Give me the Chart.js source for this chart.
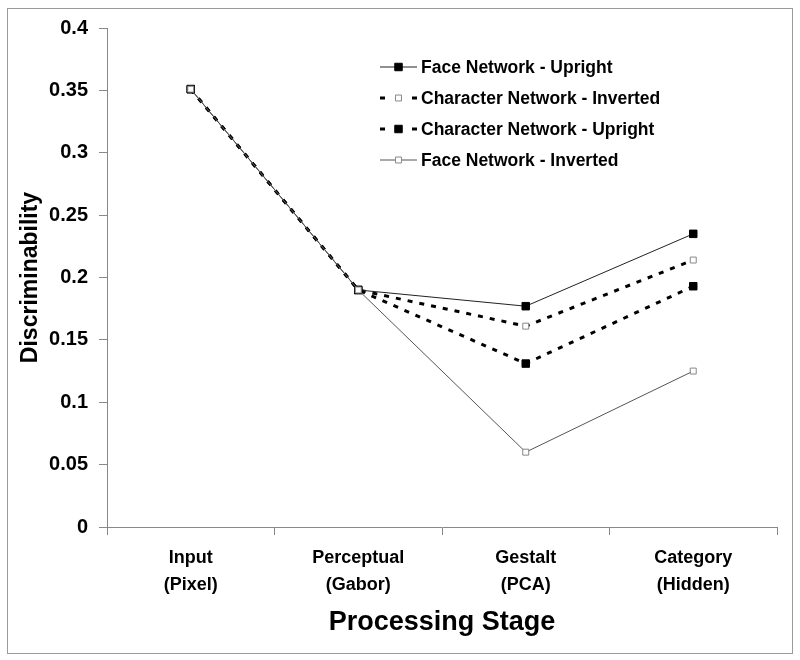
<!DOCTYPE html>
<html>
<head>
<meta charset="utf-8">
<script src="https://cdn.jsdelivr.net/npm/chart.js@4.4.1/dist/chart.umd.min.js"></script>
<style>
  html, body { margin: 0; padding: 0; background: #fff; }
  canvas { display: block; }
</style>
</head>
<body>
<canvas id="c" width="800" height="660"></canvas>
<script>
const categories = [["Input", "(Pixel)"], ["Perceptual", "(Gabor)"], ["Gestalt", "(PCA)"], ["Category", "(Hidden)"]];
const faceUpright = [0.351, 0.190, 0.177, 0.235];
const charInverted = [0.351, 0.190, 0.161, 0.214];
const charUpright = [0.351, 0.190, 0.131, 0.193];
const faceInverted = [0.351, 0.190, 0.060, 0.125];
const yTickValues = [0, 0.05, 0.1, 0.15, 0.2, 0.25, 0.3, 0.35, 0.4];
const yTickLabels = ["0", "0.05", "0.1", "0.15", "0.2", "0.25", "0.3", "0.35", "0.4"];
const seriesNames = ["Face Network - Upright", "Character Network - Inverted", "Character Network - Upright", "Face Network - Inverted"];
const xTitle = "Processing Stage";
const yTitle = "Discriminability";

const FONT = "'Liberation Sans', Arial, sans-serif";

const frame = {
  id: 'frame',
  beforeDraw(chart) {
    const ctx = chart.ctx;
    ctx.save();
    ctx.fillStyle = '#fff';
    ctx.fillRect(0, 0, chart.width, chart.height);
    ctx.strokeStyle = '#9a9a9a';
    ctx.lineWidth = 1;
    ctx.strokeRect(7.5, 8.5, 785, 645);
    ctx.restore();
  }
};

const customLegend = {
  id: 'customLegend',
  afterDatasetsDraw(chart) {
    const ctx = chart.ctx;
    const area = chart.chartArea;
    const x0 = area.left + 273;
    const y0 = area.top + 39;
    const rowH = 31;
    const sampleW = 37;
    ctx.save();
    chart.data.datasets.forEach((ds, i) => {
      const y = y0 + i * rowH;
      const dashed = ds.borderDash && ds.borderDash.length;
      ctx.beginPath();
      ctx.strokeStyle = ds.borderColor;
      ctx.lineWidth = ds.borderWidth;
      ctx.setLineDash(dashed ? [5, sampleW - 10] : []);
      ctx.lineDashOffset = 0;
      ctx.moveTo(x0, y);
      ctx.lineTo(x0 + sampleW, y);
      ctx.stroke();
      ctx.setLineDash([]);
      ctx.fillStyle = ds.pointBackgroundColor;
      ctx.strokeStyle = ds.pointBorderColor;
      ctx.lineWidth = ds.pointBorderWidth;
      Chart.helpers.drawPoint(ctx, { pointStyle: 'rect', radius: ds.pointRadius, rotation: 0, borderWidth: ds.pointBorderWidth }, x0 + sampleW / 2, y);
      ctx.fillStyle = '#000';
      ctx.font = "bold 17.5px " + FONT;
      ctx.textBaseline = 'middle';
      ctx.textAlign = 'left';
      ctx.fillText(ds.label, x0 + sampleW + 4, y + 1);
    });
    ctx.restore();
  }
};

new Chart(document.getElementById('c'), {
  type: 'line',
  data: {
    labels: categories,
    datasets: [
      {
        label: seriesNames[0], data: faceUpright, order: 1,
        borderColor: '#222', borderWidth: 1, borderDash: [],
        pointStyle: 'rect', pointRadius: 5.3, pointBorderWidth: 1,
        pointBackgroundColor: '#000', pointBorderColor: '#000', fill: false, tension: 0
      },
      {
        label: seriesNames[1], data: charInverted, order: 2,
        borderColor: '#000', borderWidth: 3, borderDash: [5, 7],
        pointStyle: 'rect', pointRadius: 4.2, pointBorderWidth: 1,
        pointBackgroundColor: '#fff', pointBorderColor: '#888', fill: false, tension: 0
      },
      {
        label: seriesNames[2], data: charUpright, order: 3,
        borderColor: '#000', borderWidth: 3, borderDash: [5, 7],
        pointStyle: 'rect', pointRadius: 5.3, pointBorderWidth: 1,
        pointBackgroundColor: '#000', pointBorderColor: '#000', fill: false, tension: 0
      },
      {
        label: seriesNames[3], data: faceInverted, order: 0,
        borderColor: '#555', borderWidth: 1, borderDash: [],
        pointStyle: 'rect', pointRadius: 4.2, pointBorderWidth: 1,
        pointBackgroundColor: '#fff', pointBorderColor: '#888', fill: false, tension: 0
      }
    ]
  },
  options: {
    responsive: false,
    animation: false,
    devicePixelRatio: 1,
    layout: { padding: { left: 0, right: 23, top: 28, bottom: 0 } },
    plugins: {
      legend: { display: false },
      tooltip: { enabled: false }
    },
    scales: {
      x: {
        type: 'category',
        offset: true,
        grid: { offset: true, drawOnChartArea: false, drawTicks: true, tickLength: 8, color: '#888' },
        border: { display: true, color: '#888', width: 1 },
        ticks: {
          color: '#000', padding: 9.5, maxRotation: 0, autoSkip: false,
          font: { family: FONT, size: 18, weight: 'bold', lineHeight: 1.5 }
        },
        title: {
          display: true, text: xTitle, color: '#000',
          font: { family: FONT, size: 27, weight: 'bold', lineHeight: 1.2 },
          padding: { top: 0, bottom: 21 }
        },
        afterFit(scale) { scale.height = 133; }
      },
      y: {
        min: 0, max: 0.4,
        afterBuildTicks(scale) { scale.ticks = yTickValues.map(v => ({ value: v })); },
        grid: { drawOnChartArea: false, drawTicks: true, tickLength: 8, color: '#888' },
        border: { display: true, color: '#888', width: 1 },
        ticks: {
          color: '#000', padding: 11,
          font: { family: FONT, size: 20, weight: 'bold' },
          callback(value, index) { return yTickLabels[index]; }
        },
        title: {
          display: true, text: yTitle, color: '#000',
          font: { family: FONT, size: 23, weight: 'bold', lineHeight: 1.2 },
          padding: { top: 17, bottom: 0 }
        },
        afterFit(scale) { scale.width = 107; }
      }
    }
  },
  plugins: [frame, customLegend]
});
</script>
</body>
</html>
